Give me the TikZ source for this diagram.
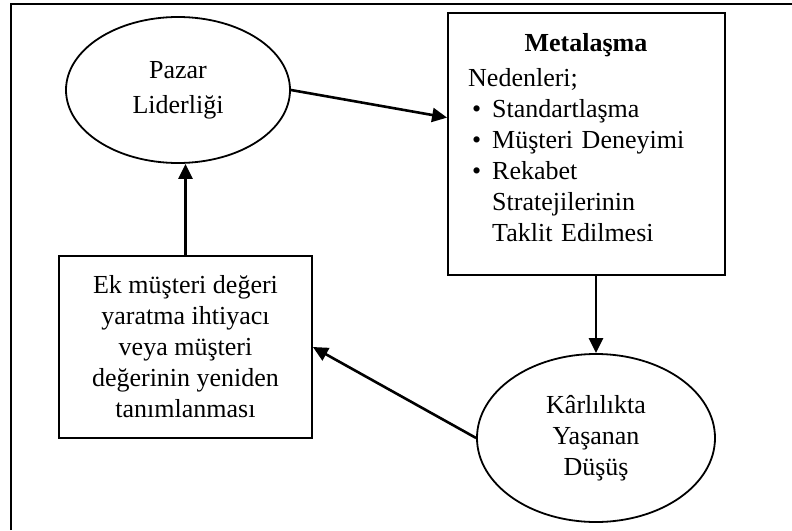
\documentclass[tikz,border=0pt]{standalone}
\usepackage{fontspec}
\setmainfont{Liberation Serif}
\usetikzlibrary{arrows.meta,shapes.geometric,calc}
\tikzset{
  oval/.style={draw,ellipse,line width=1.8pt,align=center,inner sep=0pt},
  kutu/.style={draw,rectangle,line width=1.8pt,align=center,inner sep=0pt},
  ok/.style={-{Triangle[length=15pt,width=14pt]},line width=2.6pt}
}
\begin{document}
\begin{tikzpicture}[x=1pt,y=-1pt,font=\fontsize{26}{31}\selectfont]
\useasboundingbox (0,0) rectangle (792,530);
% cerceve
\draw[line width=2pt] (11,530) -- (11,3.5) -- (792,3.5);
\node[oval,minimum width=224pt,minimum height=146pt] (pazar) at (178,90) {Pazar\\[4pt]Liderliği};
\node[kutu,minimum width=277pt,minimum height=262pt] (meta) at (586.5,144) {};
\node[anchor=base] (baslik) at (586,51) {\textbf{Metalaşma}};
\node[anchor=north west,align=left,text width=250pt,inner sep=0pt] (neden) at (468,68)
  {Nedenleri;\\
   \hspace*{4pt}\makebox[20pt][l]{\textbullet}Standartlaşma\\
   \hspace*{4pt}\makebox[20pt][l]{\textbullet}Müşteri Deneyimi\\
   \hspace*{4pt}\makebox[20pt][l]{\textbullet}Rekabet\\
   \hspace*{24pt}Stratejilerinin\\
   \hspace*{24pt}Taklit Edilmesi};
\node[kutu,minimum width=253pt,minimum height=182pt] (ek) at (185.5,347)
  {Ek müşteri değeri\\yaratma ihtiyacı\\veya müşteri\\değerinin yeniden\\tanımlanması};
\node[oval,minimum width=238pt,minimum height=168pt] (kar) at (596,438) {Kârlılıkta\\Yaşanan\\Düşüş};
% oklar
\draw[ok] (pazar.east) -- ($(meta.north west)!0.4!(meta.south west)$);
\draw[ok] (meta.south -| kar.north) -- (kar.north);
\draw[ok] (kar.west) -- (ek.east);
\draw[ok] (ek.north) -- (ek.north |- pazar.south);
\end{tikzpicture}
\end{document}
